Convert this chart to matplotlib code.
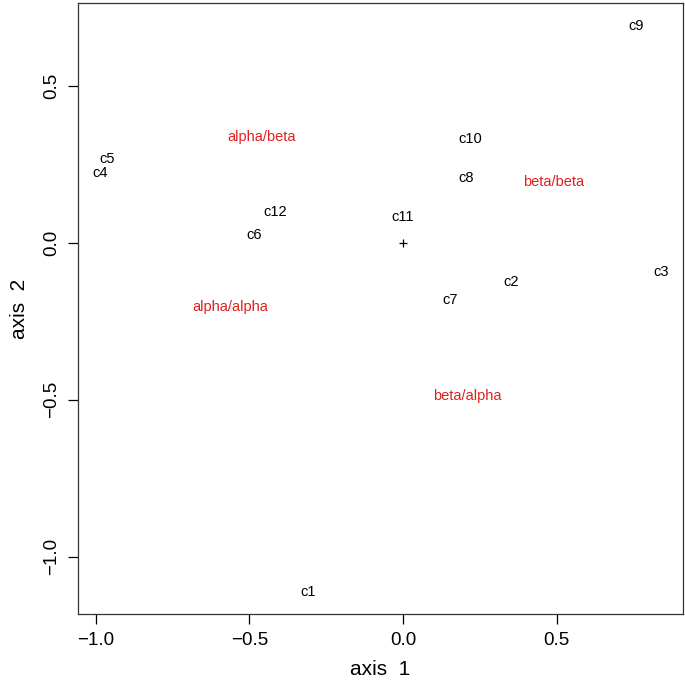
import matplotlib
matplotlib.use("Agg")
import matplotlib.pyplot as plt

# point labels (columns) and their coordinates
col_names = ["c1", "c2", "c3", "c4", "c5", "c6", "c7", "c8", "c9", "c10", "c11", "c12"]
col_x = [-0.309, 0.352, 0.842, -0.987, -0.964, -0.484, 0.153, 0.205, 0.759, 0.218, 0.000, -0.417]
col_y = [-1.112, -0.124, -0.092, 0.222, 0.267, 0.023, -0.182, 0.206, 0.689, 0.330, 0.082, 0.098]

# group labels (rows)
row_names = ["alpha/alpha", "alpha/beta", "beta/alpha", "beta/beta"]
row_x = [-0.564, -0.459, 0.208, 0.492]
row_y = [-0.206, 0.335, -0.487, 0.193]

# origin marker
origin_x = [0.0]
origin_y = [0.0]

plt.rcParams['font.family'] = ['Liberation Sans', 'DejaVu Sans']

fig = plt.figure(figsize=(6.85, 6.81), dpi=100)
ax = fig.add_axes([78 / 685, 1 - 614 / 681, 605 / 685, 611 / 681])

for name, x, y in zip(col_names, col_x, col_y):
    ax.text(x, y, name, ha='center', va='center', fontsize=10.5, color='black')

for name, x, y in zip(row_names, row_x, row_y):
    ax.text(x, y, name, ha='center', va='center', fontsize=10.5, color='#e0201e')

ax.plot(origin_x, origin_y, marker='+', color='black', markersize=6,
        markeredgewidth=0.9, linestyle='none')

ax.set_xlim(-1.0586, 0.912)
ax.set_ylim(-1.1825, 0.763)
ax.set_xticks([-1.0, -0.5, 0.0, 0.5])
ax.set_yticks([-1.0, -0.5, 0.0, 0.5])
ax.set_xticklabels(["\u22121.0", "\u22120.5", "0.0", "0.5"], fontsize=13.5)
ax.set_yticklabels(["\u22121.0", "\u22120.5", "0.0", "0.5"], fontsize=13.5,
                   rotation=90, va='center')
ax.tick_params(length=7, width=0.9, pad=6)
for s in ax.spines.values():
    s.set_linewidth(0.9)
    s.set_color('#333333')

ax.set_xlabel("axis  1", fontsize=15, labelpad=8)
ax.set_ylabel("axis  2", fontsize=15, labelpad=10)

fig.savefig("out.png", dpi=100)
